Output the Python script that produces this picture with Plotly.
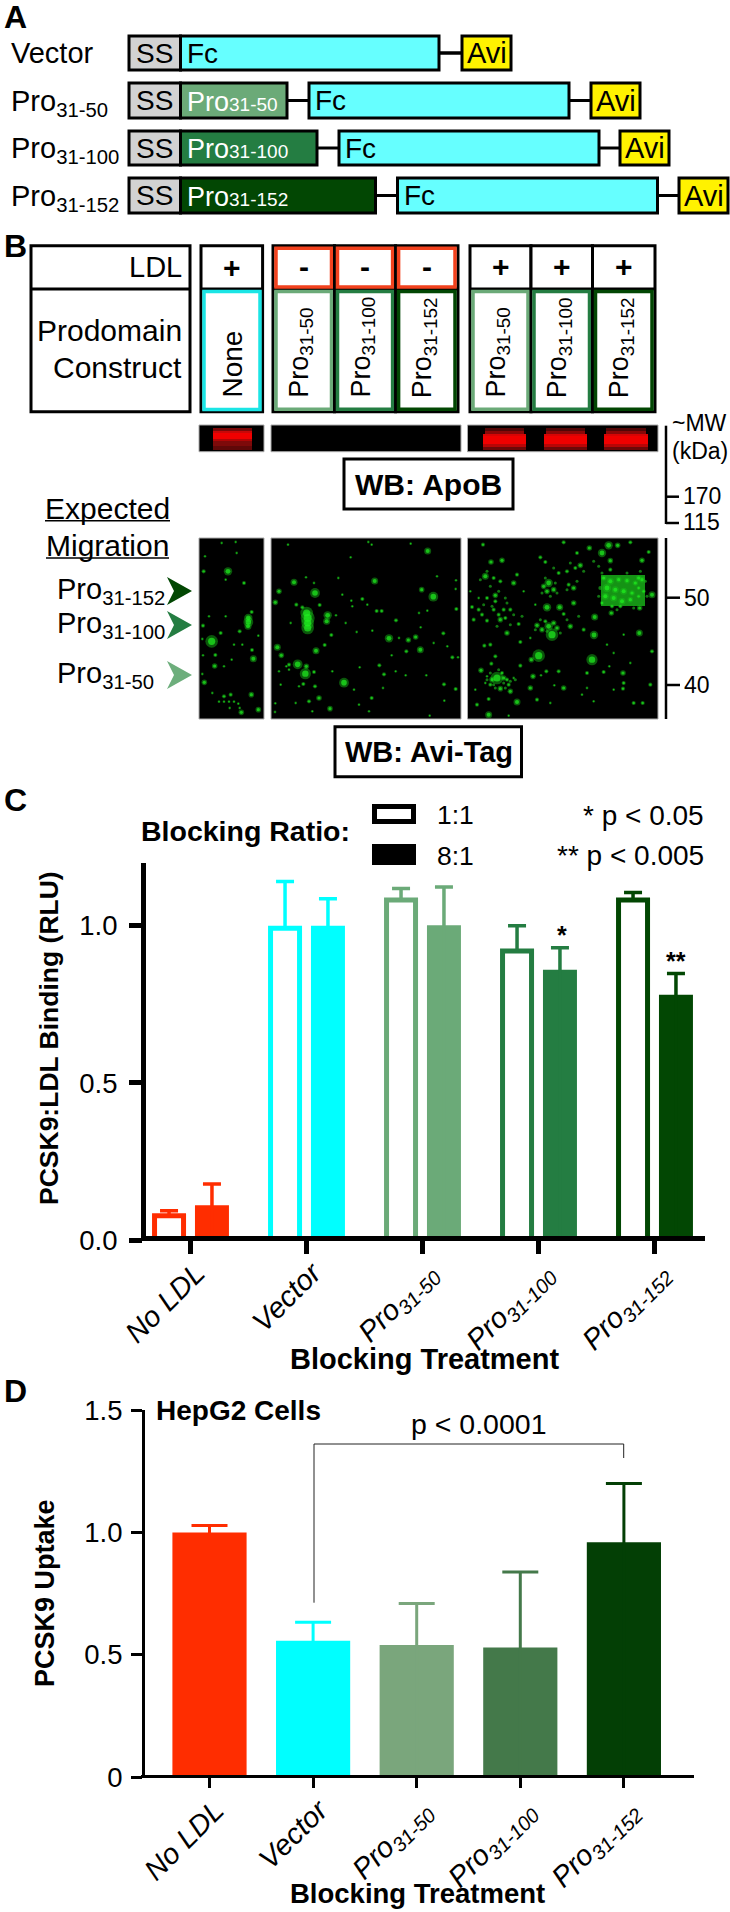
import plotly.graph_objects as go

W, H = 730, 1912
FONT = "Liberation Sans"
RED, CYAN = "#FF2D00", "#00FFFF"
GC = ["#6BAA78", "#247D42", "#024703"]
GD = ["#7AA67C", "#44794A", "#033F05"]

# ---------- Panel C data ----------
groups = ["No LDL", "Vector", "Pro31-50", "Pro31-100", "Pro31-152"]
tick_labels = ["<i>No LDL</i>", "<i>Vector</i>", "<i>Pro<sub>31-50</sub></i>",
               "<i>Pro<sub>31-100</sub></i>", "<i>Pro<sub>31-152</sub></i>"]
c_open_values = [0.077, 0.992, 1.082, 0.920, 1.082]
c_open_errors = [0.016, 0.149, 0.037, 0.080, 0.024]
c_fill_values = [0.111, 1.000, 1.002, 0.860, 0.781]
c_fill_errors = [0.067, 0.086, 0.122, 0.070, 0.067]
c_colors = [RED, CYAN] + GC

# ---------- Panel D data ----------
d_values = [1.000, 0.558, 0.540, 0.530, 0.960]
d_errors = [0.028, 0.075, 0.170, 0.308, 0.240]
d_colors = [RED, CYAN] + GD

# ---------- Blot spots (x, y, size; 3x crop units) ----------
blot_a = [(38,310,9),(148,240,6),(148,252,7),(147,265,5),(323,225,9),(326,240,10),(326,255,9),(326,270,9),
(87,100,6),(348,165,7),(285,133,5),(240,160,4),(686,39,5),(527,129,5),(703,176,7),(668,155,4),(229,193,4),
(386,232,6),(383,250,5),(570,301,6),(664,335,5),(650,297,4),(628,306,4),(235,328,5),(247,352,4),(351,338,5),
(296,379,7),(319,407,8),(435,434,7),(393,512,4),(163,362,5),(47,384,4),(16,433,4),(135,135,3),(157,470,4),
(178,515,4),(127,523,4),(14,100,3),(65,285,3),(122,280,3),(159,336,3),(49,351,3),(12,263,3),(80,235,2),
(158,222,3),(533,219,3),(548,219,3),(490,183,3),(591,247,3),(555,409,3),(735,439,3),(770,453,3),(772,213,3),
(733,286,3),(760,358,3),(397,291,3),(377,321,3),(322,385,4),(270,380,3),(345,402,3),(348,445,3),(313,438,3),
(360,480,4),(330,490,3),(228,522,2),(229,496,2),(518,480,3),(510,520,2),(541,382,3),(622,340,3),(578,352,2),
(620,412,2),(482,388,2),(457,188,2),(362,201,3),(292,200,3),(310,208,3),(418,120,2),(345,135,2),(321,118,2),
(455,58,2),(518,20,2),(635,17,2),(267,20,2),(714,115,2),(771,127,2),(770,153,2),(685,218,2),(665,268,2),
(473,282,2),(440,255,2),(411,232,2),(520,278,2),(704,315,2),(745,325,2),(777,358,2),(682,412,2),(736,488,2),
(692,533,2),(552,450,2),(465,455,2),(400,400,2),(290,495,2),(340,520,2),(508,12,2),(110,12,2),(68,15,2),
(113,45,2),(18,55,2),(80,125,2),(30,235,2),(10,303,2),(178,293,2),(12,352,2),(105,320,2),(130,320,2),
(75,385,2),(98,365,2),(10,408,2),(75,475,3),(95,470,3),(75,491,2),(90,491,2),(105,491,2),(118,497,2),
(122,510,2),(92,510,2),(40,465,2),(60,491,2),(270,395,2),(262,385,2),(300,445,2),(505,200,2),(460,205,2),
(600,300,2),(430,170,2),(275,255,2),(240,400,2),(245,440,2),(480,500,2),(590,400,2),(660,225,2)]
blot_b = [(255,290,9),(215,353,9),(375,365,8),(90,420,9),(381,291,6),(240,208,6),(278,208,5),(85,172,4),
(55,115,5),(245,135,6),(425,22,6),(452,22,4),(367,30,4),(405,45,6),(490,13,3),(525,67,4),(340,82,4),(330,45,3),
(290,13,3),(48,20,3),(72,72,4),(105,67,4),(140,135,4),(220,58,3),(235,72,3),(275,105,3),(325,90,3),(300,100,3),
(430,68,4),(555,170,5),(515,120,4),(518,210,4),(517,285,5),(433,225,4),(383,237,5),(320,195,4),(310,265,4),
(350,275,3),(290,228,3),(245,265,6),(225,275,4),(270,270,4),(210,262,4),(120,285,4),(35,215,3),(45,230,3),
(15,207,3),(100,245,4),(130,215,3),(85,190,3),(110,215,3),(60,248,3),(155,258,3),(20,245,3),(52,323,3),
(70,320,3),(85,355,3),(160,312,3),(190,300,2),(193,365,4),(160,383,3),(42,397,4),(73,377,3),(198,415,4),
(238,400,3),(275,400,3),(222,412,2),(290,450,4),(190,450,4),(262,442,2),(360,405,3),(410,402,3),(468,405,4),
(470,435,3),(468,452,3),(427,385,2),(490,375,2),(440,455,2),(550,440,3),(555,340,3),(500,495,3),(527,495,3),
(380,490,2),(360,450,2),(345,470,2),(150,492,5),(65,483,3),(30,500,3),(65,530,5),(130,460,4),(100,452,4),
(70,440,3),(120,425,3),(140,420,2),(60,415,2),(55,435,2),(25,455,2),(210,485,3),(250,495,2),(125,533,2),
(440,345,2),(420,320,2),(470,290,2),(545,42,3),(430,95,3),(240,160,4),(230,145,4),(260,155,4),(150,110,3),
(170,160,2),(205,200,2),(320,150,4),(305,140,3),(100,130,3),(80,120,3),(60,180,3),(35,180,2),(10,160,2),
(110,420,4),(75,425,4),(105,405,3),(125,440,3),(260,255,4),(235,250,3),(80,215,3),(95,230,3),(115,240,3),
(410,120,4),(430,130,5),(455,125,4),(480,128,4),(505,135,4),(525,125,4),(420,150,6),(445,155,5),(470,160,5),
(495,165,4),(415,175,5),(440,180,5),(465,190,5),(490,185,4),(515,175,3),(405,195,3),(435,205,3),(460,205,3),
(515,150,3),(530,160,3)]
# dim haze around the brighter clusters of the right-hand lanes
blot_b_dim = [(60,100,3),(40,125,3),(70,145,3),(95,160,3),(115,180,3),(75,205,3),(120,195,3),(140,230,3),
(90,265,3),(130,260,3),(50,200,3),(165,235,3),(235,120,3),(265,135,3),(225,165,3),(250,175,3),(270,165,3),
(300,155,3),(330,130,3),(350,100,3),(380,70,3),(395,85,3),(310,75,3),(260,90,3),(220,245,3),(240,280,3),
(205,275,3),(280,285,3),(300,245,3),(335,235,3),(60,425,3),(80,440,3),(110,435,3),(130,430,3),(145,425,3),
(95,395,3),(70,405,3),(115,450,3),(85,450,3),(400,150,4),(395,175,3),(535,130,3),(540,175,3),(405,105,3),
(480,105,3),(520,100,3),(450,215,3),(500,210,3)]

# ---------- Helpers ----------
shapes, notes = [], []


def rect(x0, y0, x1, y1, fill="rgba(0,0,0,0)", line="black", lw=3, layer="above"):
    shapes.append(dict(type="rect", xref="x3", yref="y3", x0=x0, y0=y0, x1=x1, y1=y1,
                       fillcolor=fill, line=dict(color=line, width=lw), layer=layer))


def seg(x0, y0, x1, y1, color="black", lw=3):
    shapes.append(dict(type="line", xref="x3", yref="y3", x0=x0, y0=y0, x1=x1, y1=y1,
                       line=dict(color=color, width=lw)))


def text(x, y, s, size=27, bold=False, anchor="center", vanchor="middle", color="black", angle=0):
    if bold:
        s = f"<b>{s}</b>"
    notes.append(dict(xref="x3", yref="y3", x=x, y=y, text=s, showarrow=False, xanchor=anchor,
                      yanchor=vanchor, textangle=angle, borderpad=0, borderwidth=0,
                      font=dict(family=FONT, size=size, color=color)))


# ---------- Panel letters ----------
for letter, ly in zip("ABCD", [17, 246, 800, 1391]):
    text(15, ly, letter, size=32, bold=True)

# ---------- Panel A ----------
rows = [("Vector", None, None, 36, 70, 180.5, 439, 462),
        ("Pro<sub>31-50</sub>", "31-50", GC[0], 83, 118, 287, 309, 591),
        ("Pro<sub>31-100</sub>", "31-100", GC[1], 131, 165, 317, 339, 620),
        ("Pro<sub>31-152</sub>", "31-152", GC[2], 178, 213, 375.5, 397.5, 679)]
for label, short, col, y0, y1, pro_end, fc0, avi0 in rows:
    ym = (y0 + y1) / 2
    text(11, ym + (0 if short is None else 2), label, size=29, anchor="left")
    fc1 = fc0 + 260 if short else 439
    fc_start = fc0 if short else 180.5
    seg(pro_end if short else 439, ym, fc0 if short else 462, ym, lw=3)
    seg(fc1, ym, avi0, ym, lw=3)
    rect(129, y0, 180.5, y1, fill="#D2D2D2")
    if short:
        rect(180.5, y0, pro_end, y1, fill=col)
        text(187, ym + 1, f'Pro<span style="font-size:19px">{short}</span>', size=27, anchor="left", color="white")
    rect(fc_start, y0, fc1, y1, fill="#66FFFF")
    rect(avi0, y0, avi0 + 49, y1, fill="#FFF200")
    text(154.5, ym, "SS", size=28)
    text(fc_start + 6, ym, "Fc", size=28, anchor="left")
    text(avi0 + 24.5, ym, "Avi", size=29)

# ---------- Panel B table ----------
T0, TM, T1 = 245.7, 289, 411.7
rect(31, T0, 190, T1, fill="white")
seg(31, TM, 190, TM)
text(182, 267, "LDL", size=29, anchor="right")
text(182, 330, "Prodomain", size=30, anchor="right")
text(182, 367, "Construct", size=30, anchor="right")

rect(201, T0, 262.6, T1, fill="white")
seg(201, TM, 262.6, TM)
text(232, 267, "+", size=30, bold=True)
rect(204, 291.5, 260, 409.5, line="#1BE5E5", lw=3.5)
text(232, 398, "None", size=28, angle=-90, vanchor="bottom")

blocks = [([273, 334.5, 395.6, 458], "-", True), ([470, 531, 592.5, 655], "+", False)]
labs = ["Pro<sub>31-50</sub>", "Pro<sub>31-100</sub>", "Pro<sub>31-152</sub>"]
for edges, sign, red in blocks:
    for i in range(3):
        a, b = edges[i], edges[i + 1]
        rect(a, T0, b, T1, fill="white")
        seg(a, TM, b, TM)
        if red:
            rect(a + 3, T0 + 2.5, b - 3, TM - 2, line="#F2421E", lw=3.5)
        rect(a + 3, TM + 2.5, b - 3, T1 - 2.5, line=GC[i], lw=3.5)
        text((a + b) / 2, 266, sign, size=30, bold=True)
        text((a + b) / 2 - 3, 398, labs[i], size=27, angle=-90, vanchor="bottom")

# ---------- ApoB blot ----------
panels = [(199, 264), (271, 461), (467.5, 658)]
for a, b in panels:
    rect(a, 425, b, 451.7, fill="black", line="#AAAAAA", lw=1)


def band(x0, x1, strips):
    for y0, y1, c in strips:
        shapes.append(dict(type="rect", xref="x3", yref="y3", x0=x0, x1=x1, y0=y0, y1=y1,
                           fillcolor=c, line=dict(width=0)))


band(213, 252, [(428, 431, "#7A0808"), (431, 433, "#C80808"), (433, 439, "#F00000"),
                (439, 441, "#B00606"), (441, 446, "#7E0A0A"), (446, 450, "#600808")])
for a, b in [(483, 526), (544, 587), (604, 648)]:
    band(a + 2, b - 2, [(428, 431, "#520606"), (431, 434, "#8A0808")])
    band(a, b, [(434, 436, "#D80404"), (436, 444, "#F00000"), (444, 447, "#B80606"), (447, 450, "#6E0808")])

rect(344, 459, 513, 509, fill="white")
text(428.5, 484, "WB: ApoB", size=30, bold=True)
seg(666, 425.7, 666, 524, lw=2.5)
seg(666, 496.7, 679, 496.7, lw=2.5)
seg(666, 523, 679, 523, lw=2.5)
text(672, 423, "~MW", size=23, anchor="left")
text(672, 451, "(kDa)", size=23, anchor="left")
text(683, 496, "170", size=23, anchor="left")
text(683, 522, "115", size=23, anchor="left")

# ---------- Avi blot ----------
for a, b in panels:
    rect(a, 538, b, 719, fill="black", line="#AAAAAA", lw=1, layer="below")
rect(601, 575, 645, 606, fill="rgba(30,210,30,0.7)", line="rgba(0,0,0,0)", lw=0, layer="below")

text(107, 508, "Expected", size=30)
seg(45, 520.7, 170, 520.7, lw=1.5)
text(107, 545.5, "Migration", size=30)
seg(46, 558, 169, 558, lw=1.5)
for lab, ym, c in [("Pro<sub>31-152</sub>", 591, GC[2]), ("Pro<sub>31-100</sub>", 625, GC[1]),
                   ("Pro<sub>31-50</sub>", 675, "#6DAE7C")]:
    text(57, ym, lab, size=29, anchor="left")
    shapes.append(dict(type="path", xref="x3", yref="y3",
                       path=f"M167,{ym-14} L192,{ym} L167,{ym+14} L174,{ym} Z",
                       fillcolor=c, line=dict(width=0)))
seg(666, 538, 666, 719, lw=2.5)
seg(666, 597.7, 680, 597.7, lw=2.5)
seg(666, 685, 680, 685, lw=2.5)
text(684, 597.5, "50", size=23, anchor="left")
text(684, 684.5, "40", size=23, anchor="left")
rect(335, 726.7, 521.5, 776.7, fill="white")
text(428.5, 751.5, "WB: Avi-Tag", size=29, bold=True)

# ---------- Panel C annotations ----------
text(141, 830.5, "Blocking Ratio:", size=28.5, bold=True, anchor="left")
rect(374.5, 806.5, 413.5, 821.5, fill="white", lw=5)
rect(372, 844, 416, 865, fill="black", lw=0)
text(437, 815, "1:1", size=26.5, anchor="left")
text(437, 855.5, "8:1", size=26.5, anchor="left")
text(704, 815, "* p &lt; 0.05", size=28, anchor="right")
text(704, 855.5, "** p &lt; 0.005", size=28, anchor="right")
text(561.5, 935, "*", size=25, bold=True)
text(676, 961, "**", size=25, bold=True)
text(424, 1359, "Blocking Treatment", size=29, bold=True)
text(49, 1038, "PCSK9:LDL Binding (RLU)", size=26.5, bold=True, angle=-90)

# ---------- Panel D annotations ----------
text(156, 1410, "HepG2 Cells", size=28, bold=True, anchor="left")
text(478.5, 1424, "p &lt; 0.0001", size=28.5)
shapes.append(dict(type="path", xref="x3", yref="y3", path="M314,1602.7 L314,1444 L623.7,1444 L623.7,1458",
                   line=dict(color="#222222", width=1)))
text(417, 1893, "Blocking Treatment", size=27.5, bold=True)
text(45, 1593, "PCSK9 Uptake", size=27, bold=True, angle=-90)

# ---------- Figure ----------
fig = go.Figure()

OFF, OPEN_W, FILL_W = 0.185, 0.25, 0.293
for i in range(len(groups)):
    col = c_colors[i]
    fig.add_trace(go.Bar(x=[i - OFF], y=[c_open_values[i]], width=OPEN_W, xaxis="x", yaxis="y",
                         marker=dict(color="white", line=dict(color=col, width=5)),
                         error_y=dict(type="data", symmetric=False, array=[c_open_errors[i]], arrayminus=[0],
                                      color=col, thickness=3.5, width=9)))
    fig.add_trace(go.Bar(x=[i + OFF], y=[c_fill_values[i]], width=FILL_W, xaxis="x", yaxis="y",
                         marker=dict(color=col, line=dict(width=0)),
                         error_y=dict(type="data", symmetric=False, array=[c_fill_errors[i]],
                                      arrayminus=[c_fill_values[i]], color=col, thickness=3.5, width=9)))
    fig.add_trace(go.Bar(x=[i], y=[d_values[i]], width=0.716, xaxis="x2", yaxis="y2",
                         marker=dict(color=d_colors[i], line=dict(width=0)),
                         error_y=dict(type="data", symmetric=False, array=[d_errors[i]],
                                      arrayminus=[d_values[i]], color=d_colors[i], thickness=3, width=18)))

blot_x = lambda spots, ox: [ox + s[0] / 3 for s in spots]
blot_y = lambda spots: [538 + s[1] / 3 for s in spots]
fig.add_trace(go.Scatter(x=blot_x(blot_b_dim, 467), y=blot_y(blot_b_dim), mode="markers", xaxis="x3", yaxis="y3",
                         marker=dict(color="#1AA81A", opacity=0.7, size=[s[2] for s in blot_b_dim], line=dict(width=0))))
for spots, ox in [(blot_a, 199), (blot_b, 467)]:
    fig.add_trace(go.Scatter(x=blot_x(spots, ox), y=blot_y(spots), mode="markers", xaxis="x3", yaxis="y3",
                             marker=dict(color="#18C018", opacity=0.45, size=[s[2] * 1.4 for s in spots],
                                         line=dict(width=0))))
    fig.add_trace(go.Scatter(x=blot_x(spots, ox), y=blot_y(spots), mode="markers", xaxis="x3", yaxis="y3",
                             marker=dict(color="#20F020", size=[s[2] * 0.8 for s in spots], line=dict(width=0))))


def dom_x(a, b):
    return [a / W, b / W]


def dom_y(top, bottom):
    return [1 - bottom / H, 1 - top / H]


tickf = dict(family=FONT, size=27.5, color="black")
xtickf = dict(family=FONT, size=29, color="black")
fig.update_layout(
    width=W, height=H, margin=dict(l=0, r=0, t=0, b=0), autosize=False,
    paper_bgcolor="white", plot_bgcolor="rgba(0,0,0,0)", showlegend=False, barmode="overlay",
    font=dict(family=FONT, color="black"), shapes=shapes, annotations=notes,
    xaxis=dict(domain=dom_x(141, 705), range=[(141 - 190.5) / 116, (705 - 190.5) / 116],
               anchor="free", position=(H - 1237.75) / H,
               tickmode="array", tickvals=list(range(5)), ticktext=tick_labels, tickangle=-45, automargin=False,
               ticks="outside", ticklen=13, tickwidth=4.5, tickcolor="black", showgrid=False, zeroline=False,
               showline=True, linewidth=4.5, linecolor="black", tickfont=xtickf, ticklabelstandoff=-9,
               ticklabelshift=6),
    yaxis=dict(domain=dom_y(863, 1240), range=[0, 1.2], anchor="free", position=(141 + 2.25) / W, tickmode="array",
               tickvals=[0, 0.5, 1.0], ticktext=["0.0", "0.5", "1.0"], ticks="outside", ticklen=12.5, tickwidth=4.5,
               tickcolor="black", showgrid=False, zeroline=False, showline=True, linewidth=4.5, linecolor="black",
               tickfont=tickf, ticklabelstandoff=6, automargin=False),
    xaxis2=dict(domain=dom_x(141, 694), range=[(141 - 209.5) / 103.6, (694 - 209.5) / 103.6],
                anchor="free", position=(H - 1775.8) / H,
                tickmode="array", tickvals=list(range(5)), ticktext=tick_labels, tickangle=-45, automargin=False,
                ticks="outside", ticklen=10, tickwidth=3, tickcolor="black", showgrid=False, zeroline=False,
                showline=True, linewidth=3, linecolor="black", tickfont=xtickf, ticklabelstandoff=-6,
                ticklabelshift=6),
    yaxis2=dict(domain=dom_y(1410, 1777.3), range=[0, 1.5], anchor="free", position=(141 + 1.5) / W, tickmode="array",
                tickvals=[0, 0.5, 1.0, 1.5], ticktext=["0", "0.5", "1.0", "1.5"], ticks="outside", ticklen=10.5,
                tickwidth=3, tickcolor="black", showgrid=False, zeroline=False, showline=True, linewidth=3,
                linecolor="black", tickfont=tickf, ticklabelstandoff=3, automargin=False),
    xaxis3=dict(domain=[0, 1], range=[0, W], anchor="y3", visible=False, fixedrange=True, automargin=False),
    yaxis3=dict(domain=[0, 1], range=[H, 0], anchor="x3", visible=False, fixedrange=True, automargin=False),
)

fig.write_html("out.html", config={"displayModeBar": False}, post_script="document.body.style.margin='0';")
